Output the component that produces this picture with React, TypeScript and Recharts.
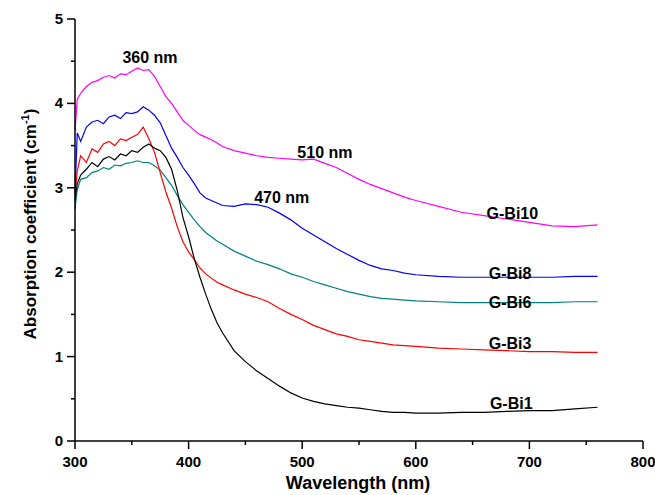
import { LineChart, Line, XAxis, YAxis, ReferenceDot, Label } from "recharts"

const wavelengths = [
  300, 302, 305, 310, 315, 320, 325, 330, 335, 340, 345, 350, 355, 360, 365, 370, 375, 380, 385, 390,
  395, 400, 405, 410, 415, 420, 425, 430, 440, 450, 460, 470, 480, 490, 500, 510, 520, 530, 540, 550,
  560, 570, 580, 590, 600, 620, 640, 660, 680, 700, 720, 740, 760,
]

const gBi10 = [
  3.68, 4.05, 4.12, 4.2, 4.25, 4.27, 4.31, 4.33, 4.3, 4.35, 4.34, 4.38, 4.42, 4.39, 4.4, 4.32, 4.2, 4.08, 4.0, 3.9,
  3.8, 3.74, 3.68, 3.63, 3.6, 3.57, 3.53, 3.49, 3.44, 3.41, 3.38, 3.36, 3.35, 3.34, 3.33, 3.34, 3.29, 3.24, 3.17, 3.1,
  3.04, 2.99, 2.94, 2.89, 2.85, 2.78, 2.71, 2.67, 2.63, 2.59, 2.55, 2.54, 2.56,
]

const gBi8 = [
  2.94, 3.65, 3.55, 3.72, 3.78, 3.8, 3.76, 3.84, 3.86, 3.82, 3.89, 3.88, 3.9, 3.96, 3.92, 3.86, 3.77, 3.62, 3.47, 3.36,
  3.24, 3.15, 3.05, 2.94, 2.88, 2.85, 2.82, 2.79, 2.78, 2.81, 2.8, 2.77, 2.7, 2.62, 2.52, 2.44, 2.36, 2.28, 2.21, 2.14,
  2.08, 2.04, 2.02, 1.99, 1.97, 1.95, 1.94, 1.94, 1.94, 1.94, 1.94, 1.95, 1.95,
]

const gBi6 = [
  2.75, 2.98, 3.1, 3.12, 3.18, 3.2, 3.24, 3.22, 3.27, 3.26, 3.29, 3.3, 3.32, 3.3, 3.3, 3.26, 3.21, 3.12, 3.03, 2.91,
  2.8, 2.71, 2.62, 2.54, 2.47, 2.42, 2.37, 2.33, 2.25, 2.19, 2.13, 2.09, 2.04, 1.98, 1.94, 1.89, 1.85, 1.81, 1.77, 1.74,
  1.71, 1.69, 1.68, 1.67, 1.66, 1.65, 1.64, 1.64, 1.64, 1.64, 1.64, 1.65, 1.65,
]

const gBi3 = [
  2.9, 3.2, 3.38, 3.3, 3.46, 3.42, 3.52, 3.55, 3.5, 3.58, 3.56, 3.6, 3.63, 3.72, 3.58, 3.42, 3.18, 2.95, 2.76, 2.54,
  2.36, 2.24, 2.15, 2.05, 1.98, 1.93, 1.88, 1.85, 1.79, 1.74, 1.7, 1.65, 1.57, 1.5, 1.44, 1.37, 1.32, 1.27, 1.24, 1.2,
  1.18, 1.16, 1.14, 1.13, 1.12, 1.1, 1.09, 1.08, 1.07, 1.06, 1.06, 1.05, 1.05,
]

const gBi1 = [
  2.85, 3.05, 3.15, 3.22, 3.3, 3.25, 3.34, 3.37, 3.33, 3.4, 3.38, 3.44, 3.42, 3.48, 3.52, 3.47, 3.44, 3.36, 3.22, 2.97,
  2.65, 2.42, 2.16, 1.94, 1.74, 1.56, 1.4, 1.28, 1.07, 0.94, 0.83, 0.74, 0.65, 0.57, 0.51, 0.47, 0.44, 0.42, 0.4, 0.39,
  0.37, 0.35, 0.34, 0.34, 0.33, 0.33, 0.34, 0.34, 0.35, 0.36, 0.36, 0.38, 0.4,
]

const xTicks = [300, 350, 400, 450, 500, 550, 600, 650, 700, 750, 800]
const yTicks = [0, 0.5, 1, 1.5, 2, 2.5, 3, 3.5, 4, 4.5, 5]

const series = [
  { key: "G-Bi10", values: gBi10, color: "#ff00ff" },
  { key: "G-Bi8", values: gBi8, color: "#0000ff" },
  { key: "G-Bi6", values: gBi6, color: "#008080" },
  { key: "G-Bi3", values: gBi3, color: "#ff0000" },
  { key: "G-Bi1", values: gBi1, color: "#000000" },
]

// text notes, anchored in data coordinates
const annotations = [
  { text: "360 nm", x: 366, y: 4.55 },
  { text: "510 nm", x: 520, y: 3.42 },
  { text: "470 nm", x: 482, y: 2.89 },
  { text: "G-Bi10", x: 685, y: 2.7 },
  { text: "G-Bi8", x: 683, y: 1.99 },
  { text: "G-Bi6", x: 683, y: 1.64 },
  { text: "G-Bi3", x: 683, y: 1.16 },
  { text: "G-Bi1", x: 684, y: 0.45 },
]

const data = wavelengths.map((w, i) => {
  const row: Record<string, number> = { wavelength: w }
  series.forEach((s) => (row[s.key] = s.values[i]))
  return row
})

const font = "'Liberation Sans', Arial, sans-serif"

function XTick({ x, y, payload }: any) {
  const major = payload.value % 100 === 0
  return (
    <g>
      <line x1={x} y1={y} x2={x} y2={y + (major ? 8 : 4)} stroke="#000" strokeWidth={1.5} />
      {major && (
        <text x={x} y={y + 26} textAnchor="middle" fontSize={15} fontWeight="bold" fontFamily={font} fill="#000">
          {payload.value}
        </text>
      )}
    </g>
  )
}

function YTick({ x, y, payload }: any) {
  const major = Number.isInteger(payload.value)
  return (
    <g>
      <line x1={x} y1={y} x2={x - (major ? 8 : 4)} y2={y} stroke="#000" strokeWidth={1.5} />
      {major && (
        <text x={x - 12} y={y + 5} textAnchor="end" fontSize={15} fontWeight="bold" fontFamily={font} fill="#000">
          {payload.value}
        </text>
      )}
    </g>
  )
}

export default function App() {
  return (
    <div style={{ position: "absolute", left: 0, top: 0, background: "#fff" }}>
      <LineChart width={655} height={495} data={data} margin={{ top: 19, right: 12, left: 0, bottom: 0 }}>
        <XAxis
          dataKey="wavelength"
          type="number"
          domain={[300, 800]}
          ticks={xTicks}
          interval={0}
          height={54}
          tickSize={0}
          tickMargin={0}
          tickLine={false}
          tick={<XTick />}
          axisLine={{ stroke: "#000", strokeWidth: 1.5 }}
        >
          <Label
            content={() => (
              <text x={358} y={489} textAnchor="middle" fontSize={18} fontWeight="bold" fontFamily={font} fill="#000">
                Wavelength (nm)
              </text>
            )}
          />
        </XAxis>
        <YAxis
          type="number"
          domain={[0, 5]}
          ticks={yTicks}
          interval={0}
          width={75}
          tickSize={0}
          tickMargin={0}
          tickLine={false}
          tick={<YTick />}
          axisLine={{ stroke: "#000", strokeWidth: 1.5 }}
        >
          <Label
            content={() => (
              <text
                x={36}
                y={224}
                transform="rotate(-90, 36, 224)"
                textAnchor="middle"
                fontSize={17}
                fontWeight="bold"
                fontFamily={font}
                fill="#000"
              >
                Absorption coefficient (cm
                <tspan dy={-7} fontSize={11}>
                  -1
                </tspan>
                <tspan dy={7}>)</tspan>
              </text>
            )}
          />
        </YAxis>
        {series.map((s) => (
          <Line
            key={s.key}
            dataKey={s.key}
            type="linear"
            stroke={s.color}
            strokeWidth={1.2}
            dot={false}
            isAnimationActive={false}
          />
        ))}
        {annotations.map((a) => (
          <ReferenceDot
            key={a.text}
            x={a.x}
            y={a.y}
            r={0}
            fill="none"
            stroke="none"
            label={{
              value: a.text,
              position: "center",
              fill: "#000",
              fontSize: 16,
              fontWeight: "bold",
              fontFamily: font,
            }}
          />
        ))}
      </LineChart>
    </div>
  )
}
